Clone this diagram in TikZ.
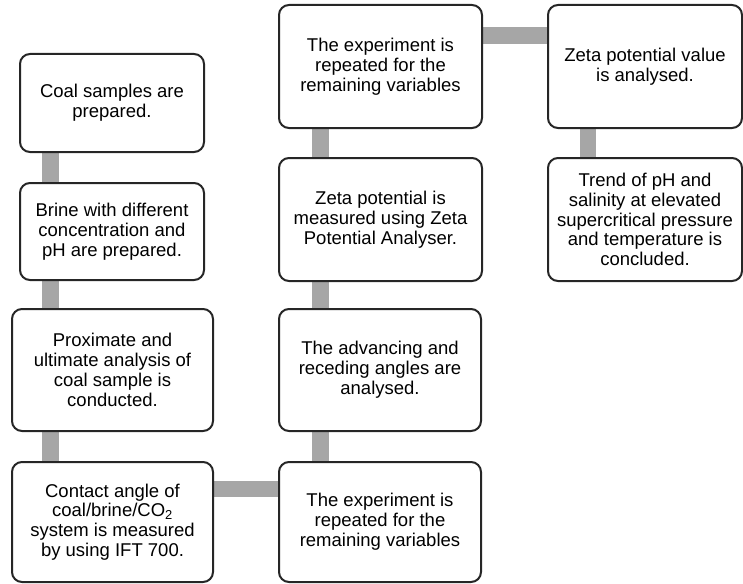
\documentclass[tikz,border=0pt]{standalone}
\usepackage{fontspec}
\setmainfont{Liberation Sans}
\usetikzlibrary{backgrounds}
\definecolor{conncol}{HTML}{A6A6A6}
\definecolor{edgecol}{HTML}{262626}
\tikzset{
  box/.style={draw=edgecol, line width=2pt, rounded corners=10pt, fill=white,
    align=center, inner sep=0pt, font=\fontsize{18.5}{19.8}\selectfont},
  conn/.style={draw=conncol, line width=16.5pt},
}
\begin{document}
\begin{tikzpicture}[x=1pt,y=-1pt]
\useasboundingbox (0,0) rectangle (743,583);
% left column
\node[box, minimum width=184pt, minimum height=98pt] (A) at (112,103) {Coal samples are\\prepared.};
\node[box, minimum width=184pt, minimum height=97pt] (B) at (112,231.5) {Brine with different\\concentration and\\pH are prepared.};
\node[box, minimum width=201pt, minimum height=122pt] (C) at (112.5,370) {Proximate and\\ultimate analysis of\\coal sample is\\conducted.};
\node[box, minimum width=201pt, minimum height=120pt] (D) at (112.5,522) {Contact angle of\\coal/brine/CO\textsubscript{2}\\system is measured\\by using IFT 700.};
% middle column
\node[box, minimum width=202pt, minimum height=120pt] (E) at (380,522) {The experiment is\\repeated for the\\remaining variables};
\node[box, minimum width=202pt, minimum height=122pt] (F) at (380,370) {The advancing and\\receding angles are\\analysed.};
\node[box, minimum width=203pt, minimum height=123pt] (G) at (380.5,219.5) {Zeta potential is\\measured using Zeta\\Potential Analyser.};
\node[box, minimum width=203pt, minimum height=123pt] (H) at (380.5,66.5) {The experiment is\\repeated for the\\remaining variables};
% right column
\node[box, minimum width=194pt, minimum height=123pt] (I) at (645,66.5) {Zeta potential value\\is analysed.};
\node[box, minimum width=194pt, minimum height=123pt] (J) at (645,219.5) {Trend of pH and\\salinity at elevated\\supercritical pressure\\and temperature is\\concluded.};
% connector guide coordinates
\coordinate (cl) at (50.5,0);
\coordinate (cm) at (320.5,0);
\coordinate (cr) at (588,0);
\coordinate (rb) at (0,489);
\coordinate (rt) at (0,35.5);
\begin{scope}[on background layer]
\draw[conn] (A.south -| cl) -- (B.north -| cl);
\draw[conn] (B.south -| cl) -- (C.north -| cl);
\draw[conn] (C.south -| cl) -- (D.north -| cl);
\draw[conn] (D.east |- rb) -- (E.west |- rb);
\draw[conn] (E.north -| cm) -- (F.south -| cm);
\draw[conn] (F.north -| cm) -- (G.south -| cm);
\draw[conn] (G.north -| cm) -- (H.south -| cm);
\draw[conn] (H.east |- rt) -- (I.west |- rt);
\draw[conn] (I.south -| cr) -- (J.north -| cr);
\end{scope}
\end{tikzpicture}
\end{document}
